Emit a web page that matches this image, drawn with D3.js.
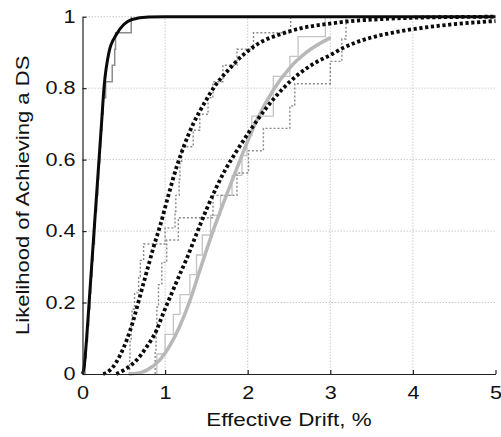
<!DOCTYPE html>
<html>
<head>
<meta charset="utf-8">
<script src="https://cdn.jsdelivr.net/npm/d3@7"></script>
<style>
  html, body { margin: 0; padding: 0; background: #fff; }
  svg { display: block; }
  text { font-family: "Liberation Sans", Arial, sans-serif; fill: #111; }
</style>
</head>
<body>
<svg id="chart" width="501" height="437"></svg>
<script>
// Axis ticks
const xTicks = [0, 1, 2, 3, 4, 5];
const xTickLabels = ["0", "1", "2", "3", "4", "5"];
const yTicks = [0, 0.2, 0.4, 0.6, 0.8, 1];
const yTickLabels = ["0", "0.2", "0.4", "0.6", "0.8", "1"];

// Fitted fragility curves: [drift %, probability]
const fitSolidBlack = [
  [0, 0], [0.02, 0.02], [0.05, 0.1], [0.08, 0.2], [0.11, 0.3], [0.14, 0.4],
  [0.17, 0.5], [0.2, 0.6], [0.23, 0.7], [0.26, 0.8], [0.32, 0.9], [0.41, 0.95],
  [0.5, 0.978], [0.6, 0.992], [0.8, 0.999], [1, 1], [5, 1]
];
const fitDottedLeft = [
  [0.25, 0], [0.3, 0.005], [0.37, 0.02], [0.45, 0.05], [0.535, 0.095],
  [0.615, 0.15], [0.675, 0.2], [0.74, 0.255], [0.8, 0.305], [0.86, 0.355],
  [0.94, 0.415], [1.04, 0.5], [1.14, 0.58], [1.24, 0.645], [1.34, 0.7],
  [1.46, 0.752], [1.6, 0.805], [1.77, 0.852], [1.93, 0.89], [2.13, 0.925],
  [2.41, 0.952], [2.65, 0.968], [2.94, 0.979], [3.22, 0.987], [3.6, 0.993],
  [4, 0.997], [4.5, 0.999], [5, 1]
];
const fitDottedRight = [
  [0.41, 0], [0.535, 0.016], [0.656, 0.039], [0.777, 0.076], [0.898, 0.123],
  [0.978, 0.17], [1.08, 0.226], [1.18, 0.28], [1.26, 0.322], [1.38, 0.392],
  [1.5, 0.46], [1.62, 0.522], [1.72, 0.568], [1.85, 0.618], [2.01, 0.675],
  [2.21, 0.74], [2.41, 0.795], [2.61, 0.838], [2.81, 0.87], [3.02, 0.895],
  [3.15, 0.912], [3.3, 0.927], [3.5, 0.942], [3.75, 0.955], [4, 0.965],
  [4.33, 0.975], [4.7, 0.983], [5, 0.988]
];
const fitGrey = [
  [0.575, 0], [0.7, 0.004], [0.78, 0.011], [0.94, 0.04], [1.06, 0.08],
  [1.18, 0.135], [1.3, 0.205], [1.42, 0.29], [1.58, 0.4], [1.75, 0.505],
  [1.91, 0.6], [2.0, 0.652], [2.11, 0.71], [2.31, 0.795], [2.51, 0.857],
  [2.71, 0.9], [2.99, 0.94]
];

// Empirical distributions (step at each observed drift, level after step)
const empSolidX = [0.03, 0.045, 0.06, 0.075, 0.09, 0.1, 0.115, 0.13, 0.145, 0.155, 0.17,
                   0.185, 0.195, 0.21, 0.22, 0.235, 0.25, 0.28, 0.36, 0.39, 0.4, 0.59];
const empSolidY = [0.045, 0.091, 0.136, 0.182, 0.227, 0.273, 0.318, 0.364, 0.409, 0.455, 0.5,
                   0.545, 0.591, 0.636, 0.682, 0.727, 0.773, 0.818, 0.864, 0.909, 0.955, 1];
const empLeftX = [0.57, 0.575, 0.59, 0.6, 0.63, 0.68, 0.7, 0.74, 1.0, 1.12, 1.13,
                  1.17, 1.18, 1.2, 1.34, 1.42, 1.52, 1.58, 1.7, 1.87, 2.07, 2.52];
const empLeftY = [0.045, 0.091, 0.136, 0.182, 0.227, 0.273, 0.318, 0.364, 0.409, 0.455, 0.5,
                  0.545, 0.591, 0.636, 0.682, 0.727, 0.773, 0.818, 0.864, 0.909, 0.955, 1];
const empRightX = [0.88, 0.89, 0.9, 0.92, 0.96, 1.02, 1.16, 1.58, 1.87, 2.01, 2.19,
                   2.51, 2.57, 3.0, 3.14, 3.19];
const empRightY = [0.0625, 0.125, 0.1875, 0.25, 0.3125, 0.375, 0.4375, 0.5, 0.5625, 0.625,
                   0.6875, 0.75, 0.8125, 0.875, 0.9375, 1];
const empGreyX = [0.9, 1.0, 1.1, 1.18, 1.3, 1.38, 1.45, 1.55, 1.67, 1.81, 1.93, 1.99,
                  2.05, 2.31, 2.31, 2.51, 2.61, 2.94];
const empGreyY = [0.056, 0.111, 0.167, 0.222, 0.278, 0.333, 0.389, 0.444, 0.5, 0.556,
                  0.611, 0.667, 0.722, 0.778, 0.833, 0.889, 0.944, 1];

const svg = d3.select("#chart");
const x = d3.scaleLinear().domain([0, 5]).range([82.5, 495.5]);
const y = d3.scaleLinear().domain([0, 1]).range([374, 16.7]);

// Widen glyphs along the text direction, keeping the anchor in place
function widen(sel, factor) {
  sel.each(function () {
    const n = this.getComputedTextLength();
    d3.select(this).attr("textLength", n * factor).attr("lengthAdjust", "spacingAndGlyphs");
  });
}

// Grid
const grid = svg.append("g").attr("stroke", "#cbcbcb").attr("stroke-width", 1)
  .attr("stroke-dasharray", "1.5 1.5");
grid.selectAll("line.gx").data(xTicks.filter(v => v > 0 && v < 5)).join("line")
  .attr("x1", d => x(d)).attr("x2", d => x(d)).attr("y1", y(0)).attr("y2", y(1));
grid.selectAll("line.gy").data(yTicks.filter(v => v > 0)).join("line")
  .attr("x1", x(0)).attr("x2", x(5)).attr("y1", d => y(d)).attr("y2", d => y(d));

const smooth = d3.line().x(d => x(d[0])).y(d => y(d[1])).curve(d3.curveMonotoneX);
const stairs = d3.line().x(d => x(d[0])).y(d => y(d[1])).curve(d3.curveStepAfter);
const stepPts = (xs, ys) => [[xs[0], 0]].concat(xs.map((v, i) => [v, ys[i]]));

const plot = svg.append("g").attr("fill", "none");

// Empirical stairs
plot.append("path").attr("d", stairs(stepPts(empGreyX, empGreyY)))
  .attr("stroke", "#c4c4c4").attr("stroke-width", 1.3);
plot.append("path").attr("d", stairs(stepPts(empLeftX, empLeftY)))
  .attr("stroke", "#8a8a8a").attr("stroke-width", 1.4).attr("stroke-dasharray", "2 2");
plot.append("path").attr("d", stairs(stepPts(empRightX, empRightY)))
  .attr("stroke", "#8a8a8a").attr("stroke-width", 1.4).attr("stroke-dasharray", "2 2");
plot.append("path").attr("d", stairs(stepPts(empSolidX, empSolidY)))
  .attr("stroke", "#8c8c8c").attr("stroke-width", 1.5);

// Fitted curves
plot.append("path").attr("d", smooth(fitGrey))
  .attr("stroke", "#b8b8b8").attr("stroke-width", 3.5).attr("stroke-linecap", "round");
plot.append("path").attr("d", smooth(fitDottedRight))
  .attr("stroke", "#0a0a0a").attr("stroke-width", 3.8).attr("stroke-dasharray", "3.2 2.6");
plot.append("path").attr("d", smooth(fitDottedLeft))
  .attr("stroke", "#0a0a0a").attr("stroke-width", 3.8).attr("stroke-dasharray", "3.2 2.6");
plot.append("path").attr("d", smooth(fitSolidBlack))
  .attr("stroke", "#0a0a0a").attr("stroke-width", 3);

// Axes
const xAxis = d3.axisBottom(x).tickValues(xTicks).tickFormat((d, i) => xTickLabels[i])
  .tickSizeInner(-4).tickSizeOuter(0).tickPadding(12);
const yAxis = d3.axisLeft(y).tickValues(yTicks).tickFormat((d, i) => yTickLabels[i])
  .tickSizeInner(-4).tickSizeOuter(0).tickPadding(7);

const gx = svg.append("g").attr("transform", `translate(0,${y(0)})`).call(xAxis);
const gy = svg.append("g").attr("transform", `translate(${x(0)},0)`).call(yAxis);
[gx, gy].forEach(g => {
  g.select(".domain").attr("stroke", "#222").attr("stroke-width", 1.2);
  g.selectAll(".tick line").attr("stroke", "#222").attr("stroke-width", 1.2);
  g.selectAll(".tick text").style("font-size", "18px")
    .style("font-family", "'Liberation Sans', Arial, sans-serif").attr("fill", "#111")
    .call(widen, 1.2);
});

svg.append("text").attr("x", x(2.5)).attr("y", 426).attr("text-anchor", "middle")
  .style("font-size", "19px").text("Effective Drift, %").call(widen, 1.18);
svg.append("text").attr("transform", `translate(29,${(y(0) + y(1)) / 2}) rotate(-90)`)
  .attr("text-anchor", "middle").style("font-size", "19px")
  .text("Likelihood of Achieving a DS").call(widen, 1.16);
</script>
</body>
</html>
